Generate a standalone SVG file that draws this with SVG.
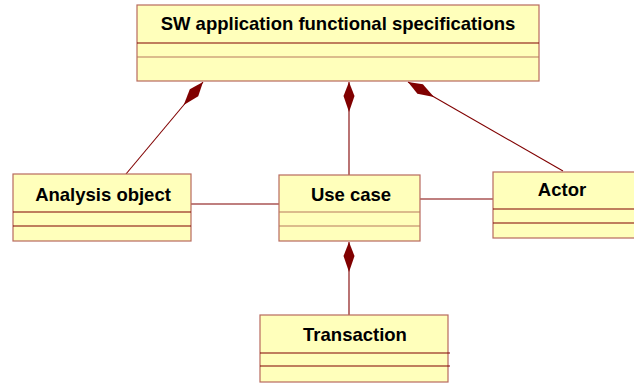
<svg xmlns="http://www.w3.org/2000/svg" width="634" height="383" viewBox="0 0 634 383">
<style>
.box{fill:#ffffbb;stroke:#b86a5e;stroke-width:1.2}
.div{stroke:#800000;stroke-width:1.2}
.divl{stroke:#b87a5e;stroke-width:1.2}
.lbl{font-family:"Liberation Sans",Arial,sans-serif;font-weight:bold;font-size:18.5px;fill:#000;text-anchor:middle}
.con{stroke:#800000;stroke-width:1.1;fill:none}
.dia{fill:#800000;stroke:none}
</style>
<defs>
<marker id="comp" markerUnits="userSpaceOnUse" markerWidth="32" markerHeight="12" refX="0" refY="6" orient="auto" viewBox="0 0 32 12" overflow="visible">
<path class="dia" d="M0,6 L14,0.5 L30,6 L14,11.5 Z"/>
</marker>
</defs>
<g id="connectors">
<path class="con" d="M349,82 L349,175" marker-start="url(#comp)"/>
<path class="con" d="M349,242 L349,315" marker-start="url(#comp)"/>
<path class="con" d="M203,82 L126,174" marker-start="url(#comp)"/>
<path class="con" d="M408,82 L563,171" marker-start="url(#comp)"/>
<path class="con" d="M191,204 L279,204"/>
<path class="con" d="M420,199 L493,199"/>
</g>
<g id="spec">
<rect class="box" x="137" y="5" width="402" height="76"/>
<line class="div" x1="137" y1="43" x2="539" y2="43"/>
<line class="divl" x1="137" y1="57" x2="539" y2="57"/>
<text class="lbl" x="338" y="30">SW application functional specifications</text>
</g>
<g id="analysis">
<rect class="box" x="13" y="174" width="178" height="67"/>
<line class="div" x1="13" y1="212" x2="191" y2="212"/>
<line class="div" x1="13" y1="226" x2="191" y2="226"/>
<text class="lbl" x="103" y="201">Analysis object</text>
</g>
<g id="usecase">
<rect class="box" x="279" y="175" width="141" height="66"/>
<line class="divl" x1="279" y1="212" x2="420" y2="212"/>
<line class="divl" x1="279" y1="226" x2="420" y2="226"/>
<text class="lbl" x="351" y="201">Use case</text>
</g>
<g id="actor">
<rect class="box" x="493" y="172" width="145" height="66"/>
<line class="div" x1="493" y1="209" x2="634" y2="209"/>
<line class="div" x1="493" y1="223" x2="634" y2="223"/>
<text class="lbl" x="562" y="196">Actor</text>
</g>
<g id="transaction">
<rect class="box" x="260" y="315" width="188" height="67"/>
<line class="div" x1="260" y1="353" x2="450" y2="353"/>
<line class="div" x1="260" y1="366" x2="450" y2="366"/>
<text class="lbl" x="355" y="341">Transaction</text>
</g>
</svg>
